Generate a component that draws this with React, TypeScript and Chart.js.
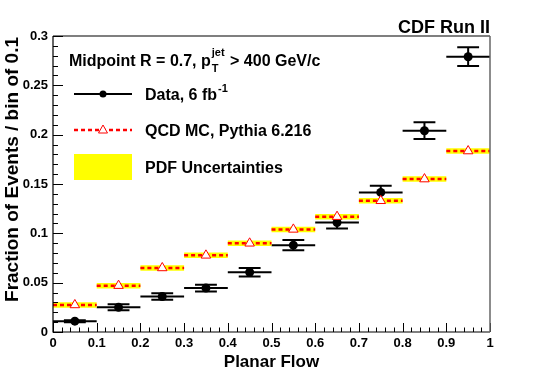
import React, { useEffect, useRef } from "react";
import { Chart, registerables } from "chart.js";

Chart.register(...registerables);

// ---- data ----
const binLow = [0.0, 0.1, 0.2, 0.3, 0.4, 0.5, 0.6, 0.7, 0.8, 0.9];
const binHigh = [0.1, 0.2, 0.3, 0.4, 0.5, 0.6, 0.7, 0.8, 0.9, 1.0];
const binCenters = [0.05, 0.15, 0.25, 0.35, 0.45, 0.55, 0.65, 0.75, 0.85, 0.95];
const dataValues = [0.011, 0.025, 0.036, 0.0445, 0.0605, 0.088, 0.111, 0.1415, 0.204, 0.279];
const dataErrors = [0.001, 0.003, 0.0033, 0.0035, 0.0043, 0.0052, 0.006, 0.0066, 0.0085, 0.0095];
const mcValues = [0.0274, 0.047, 0.0649, 0.0777, 0.0899, 0.104, 0.1169, 0.133, 0.155, 0.1834];
const xTickValues = [0, 0.1, 0.2, 0.3, 0.4, 0.5, 0.6, 0.7, 0.8, 0.9, 1];
const xTickLabels = ["0", "0.1", "0.2", "0.3", "0.4", "0.5", "0.6", "0.7", "0.8", "0.9", "1"];
const yTickValues = [0, 0.05, 0.1, 0.15, 0.2, 0.25, 0.3];
const yTickLabels = ["0", "0.05", "0.1", "0.15", "0.2", "0.25", "0.3"];
const capHalfWidth = 0.025;

const FONT = '"Liberation Sans", Arial, Helvetica, sans-serif';

function segments(pairs: { x: number; y: number | null }[][]) {
  const out: { x: number; y: number | null }[] = [];
  pairs.forEach((p) => {
    out.push(p[0], p[1], { x: p[1].x, y: null });
  });
  return out;
}

const rootPlugin = {
  id: "rootDecor",
  afterDatasetsDraw(chart: any) {
    const ctx = chart.ctx;
    const { left, right, top, bottom } = chart.chartArea;
    const xs = chart.scales.x;
    const ys = chart.scales.y;
    ctx.save();
    ctx.strokeStyle = "#000";
    ctx.lineWidth = 1;
    ctx.beginPath();
    for (let i = 0; i <= 50; i++) {
      const v = i / 50;
      const px = Math.round(xs.getPixelForValue(v)) + 0.5;
      const len = i % 5 === 0 ? 9 : 4.5;
      ctx.moveTo(px, bottom);
      ctx.lineTo(px, bottom - len);
    }
    for (let i = 0; i <= 30; i++) {
      const v = i / 100;
      const py = Math.round(ys.getPixelForValue(v)) + 0.5;
      const len = i % 5 === 0 ? 10 : 5;
      ctx.moveTo(left, py);
      ctx.lineTo(left + len, py);
    }
    ctx.stroke();
    ctx.lineWidth = 1.2;
    ctx.beginPath();
    ctx.moveTo(left, top);
    ctx.lineTo(left, bottom);
    ctx.lineTo(right, bottom);
    ctx.moveTo(left, top);
    ctx.lineTo(right, top);
    ctx.stroke();
    ctx.strokeStyle = "#666";
    ctx.lineWidth = 1.5;
    ctx.beginPath();
    ctx.moveTo(right, top);
    ctx.lineTo(right, bottom);
    ctx.stroke();
    ctx.restore();
  },
  afterDraw(chart: any) {
    const ctx = chart.ctx;
    const { left, right, top } = chart.chartArea;
    ctx.save();
    ctx.fillStyle = "#000";
    ctx.textBaseline = "alphabetic";

    ctx.font = `bold 18px ${FONT}`;
    ctx.textAlign = "right";
    ctx.fillText("CDF Run II", right, 33);

    ctx.font = `bold 17px ${FONT}`;
    ctx.textAlign = "center";
    ctx.fillText("Planar Flow", (left + right) / 2, 367);

    ctx.save();
    ctx.translate(18, top + 1);
    ctx.rotate(-Math.PI / 2);
    ctx.textAlign = "right";
    ctx.font = `bold 19px ${FONT}`;
    ctx.fillText("Fraction of Events / bin of 0.1", 0, 0);
    ctx.restore();

    ctx.textAlign = "left";
    let x = 69;
    ctx.font = `bold 16px ${FONT}`;
    const t1 = "Midpoint R = 0.7, p";
    ctx.fillText(t1, x, 66);
    x += ctx.measureText(t1).width + 1;
    ctx.font = `bold 11px ${FONT}`;
    ctx.fillText("jet", x, 56);
    const wj = ctx.measureText("jet").width;
    ctx.fillText("T", x, 72);
    const wt = ctx.measureText("T").width;
    x += Math.max(wj, wt) + 1;
    ctx.font = `bold 16px ${FONT}`;
    ctx.fillText(" > 400 GeV/c", x, 66);

    // legend: data
    ctx.strokeStyle = "#000";
    ctx.lineWidth = 2;
    ctx.beginPath();
    ctx.moveTo(74, 94);
    ctx.lineTo(132, 94);
    ctx.stroke();
    ctx.beginPath();
    ctx.arc(103, 94, 3.5, 0, Math.PI * 2);
    ctx.fill();
    ctx.font = `bold 16px ${FONT}`;
    const t2 = "Data, 6 fb";
    ctx.fillText(t2, 145, 100);
    const w2 = ctx.measureText(t2).width;
    ctx.font = `bold 11px ${FONT}`;
    ctx.fillText("-1", 145 + w2 + 1, 92);

    // legend: MC
    ctx.strokeStyle = "#ff0000";
    ctx.lineWidth = 2.5;
    ctx.setLineDash([4, 3]);
    ctx.beginPath();
    ctx.moveTo(74, 130);
    ctx.lineTo(132, 130);
    ctx.stroke();
    ctx.setLineDash([]);
    ctx.lineWidth = 1;
    ctx.fillStyle = "#fff";
    ctx.beginPath();
    ctx.moveTo(103, 125);
    ctx.lineTo(107.5, 133);
    ctx.lineTo(98.5, 133);
    ctx.closePath();
    ctx.fill();
    ctx.stroke();
    ctx.fillStyle = "#000";
    ctx.font = `bold 16px ${FONT}`;
    ctx.fillText("QCD MC, Pythia 6.216", 145, 136);

    // legend: PDF band
    ctx.fillStyle = "#ffff00";
    ctx.fillRect(74, 154, 58, 26);
    ctx.fillStyle = "#000";
    ctx.fillText("PDF Uncertainties", 145, 173);

    ctx.restore();
  },
};

export default function App() {
  const ref = useRef<HTMLCanvasElement | null>(null);

  useEffect(() => {
    if (!ref.current) return;
    const hbars = segments(
      binLow.map((lo, i) => [
        { x: lo, y: dataValues[i] },
        { x: binHigh[i], y: dataValues[i] },
      ])
    );
    const vbars = segments(
      binCenters.map((c, i) => [
        { x: c, y: dataValues[i] - dataErrors[i] },
        { x: c, y: dataValues[i] + dataErrors[i] },
      ])
    );
    const caps = segments(
      binCenters.flatMap((c, i) => [
        [
          { x: c - capHalfWidth, y: dataValues[i] - dataErrors[i] },
          { x: c + capHalfWidth, y: dataValues[i] - dataErrors[i] },
        ],
        [
          { x: c - capHalfWidth, y: dataValues[i] + dataErrors[i] },
          { x: c + capHalfWidth, y: dataValues[i] + dataErrors[i] },
        ],
      ])
    );
    const points = binCenters.map((c, i) => ({ x: c, y: dataValues[i] }));
    const mcSegs = segments(
      binLow.map((lo, i) => [
        { x: lo, y: mcValues[i] },
        { x: binHigh[i], y: mcValues[i] },
      ])
    );
    const mcPoints = binCenters.map((c, i) => ({ x: c, y: mcValues[i] }));

    const lineDs = (data: any, color: string, width: number, order: number, dash: number[] = []) => ({
      data,
      showLine: true,
      borderColor: color,
      borderWidth: width,
      borderDash: dash,
      pointRadius: 0,
      pointHoverRadius: 0,
      spanGaps: false,
      order,
    });

    const chart = new Chart(ref.current, {
      type: "scatter",
      data: {
        datasets: [
          lineDs(hbars, "#000", 2, 7) as any,
          lineDs(vbars, "#000", 2, 6) as any,
          lineDs(caps, "#000", 2, 5) as any,
          {
            data: points,
            showLine: false,
            pointStyle: "circle",
            pointRadius: 4.5,
            backgroundColor: "#000",
            borderColor: "#000",
            borderWidth: 0,
            order: 4,
          },
          lineDs(mcSegs, "#ffff00", 5.5, 3) as any,
          lineDs(mcSegs, "#ff0000", 2.5, 2, [4, 3]) as any,
          {
            data: mcPoints,
            showLine: false,
            pointStyle: "triangle",
            pointRadius: 5.5,
            backgroundColor: "#fff",
            borderColor: "#ff0000",
            borderWidth: 1,
            order: 1,
          },
        ],
      },
      options: {
        responsive: false,
        animation: false,
        devicePixelRatio: 1,
        layout: { padding: { left: 0, right: 55, top: 36, bottom: 0 } },
        plugins: { legend: { display: false }, tooltip: { enabled: false } },
        events: [],
        scales: {
          x: {
            type: "linear",
            min: 0,
            max: 1,
            afterFit: (s: any) => {
              s.height = 37;
            },
            afterBuildTicks: (s: any) => {
              s.ticks = xTickValues.map((v) => ({ value: v }));
            },
            grid: { display: false, drawTicks: false },
            border: { display: false },
            ticks: {
              autoSkip: false,
              maxRotation: 0,
              padding: 4,
              color: "#000",
              font: { family: FONT, size: 13, weight: "bold" },
              callback: (_v: any, i: number) => xTickLabels[i],
            },
          },
          y: {
            type: "linear",
            min: 0,
            max: 0.3,
            afterFit: (s: any) => {
              s.width = 53;
            },
            afterBuildTicks: (s: any) => {
              s.ticks = yTickValues.map((v) => ({ value: v }));
            },
            grid: { display: false, drawTicks: false },
            border: { display: false },
            ticks: {
              autoSkip: false,
              padding: 5,
              color: "#000",
              font: { family: FONT, size: 13, weight: "bold" },
              callback: (_v: any, i: number) => yTickLabels[i],
            },
          },
        },
      } as any,
      plugins: [rootPlugin],
    });
    return () => chart.destroy();
  }, []);

  return (
    <div style={{ position: "fixed", left: 0, top: 0, width: 545, height: 369, background: "#fff" }}>
      <canvas ref={ref} width={545} height={369} style={{ display: "block" }} />
    </div>
  );
}
